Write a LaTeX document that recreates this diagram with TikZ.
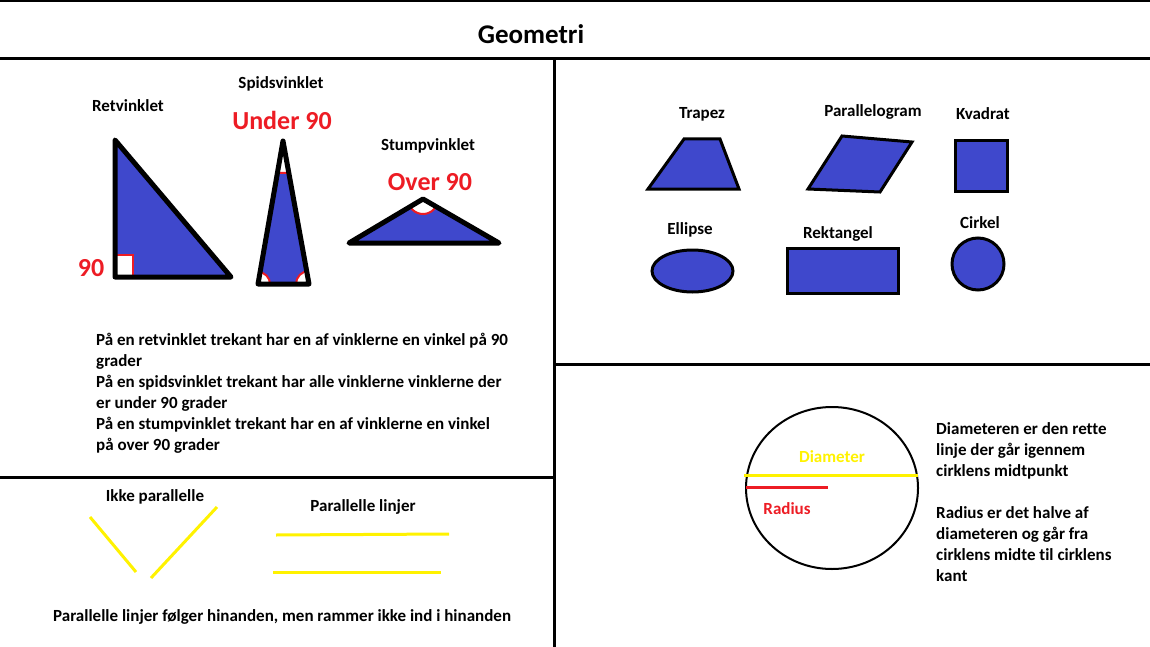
\documentclass[tikz,border=0pt]{standalone}
\usepackage{fontspec}
\setmainfont[Ligatures=NoCommon]{Carlito}
\usetikzlibrary{positioning}
\definecolor{paintblue}{RGB}{63,72,204}
\definecolor{paintred}{RGB}{237,28,36}
\definecolor{paintyellow}{RGB}{255,242,0}
\begin{document}
\begin{tikzpicture}[x=1pt,y=-1pt,
  lbl/.style={font=\bfseries\fontsize{17}{21}\selectfont,inner sep=0pt},
  redlbl/.style={font=\bfseries\fontsize{26}{30}\selectfont,text=paintred,inner sep=0pt},
  txtblock/.style={lbl,align=left,anchor=north west},
  figfill/.style={fill=paintblue},
  outline/.style={draw=black,line width=5pt,line join=round},
  figure/.style={draw=black,fill=paintblue,line width=3pt},
  frame/.style={draw=black,line width=3pt},
  anglemark/.style={draw=paintred,fill=white,line width=2pt},
  yline/.style={draw=paintyellow,line width=3pt}]
  \useasboundingbox (0,0) rectangle (1150,647);
  % frame lines
  \draw[line width=2pt] (0,1) -- (1150,1);
  \draw[frame] (0,59) -- (1150,59);
  \draw[frame] (554,59) -- (554,647);
  \draw[frame] (0,477) -- (554,477);
  \draw[frame] (554,364) -- (1150,364);
  \node[inner sep=0pt,font=\bfseries\fontsize{27}{32}\selectfont] (title) at (531,34) {Geometri};
  % triangles
  \coordinate (ra) at (115,140); \coordinate (rb) at (115,277); \coordinate (rc) at (231,277);
  \coordinate (sa) at (283,141); \coordinate (sb) at (258,284); \coordinate (sc) at (309,284);
  \coordinate (oa) at (349,243); \coordinate (ob) at (423,199); \coordinate (oc) at (499,243);
  \fill[figfill] (ra) -- (rb) -- (rc) -- cycle;
  \fill[figfill] (sa) -- (sb) -- (sc) -- cycle;
  \fill[figfill] (oa) -- (ob) -- (oc) -- cycle;
  \draw[anglemark] (115,255) rectangle (133,277);
  \begin{scope}
    \clip (sa) -- (sb) -- (sc) -- cycle;
    \draw[anglemark] (sa) circle (32);
    \draw[anglemark] (sb) circle (12);
    \draw[anglemark] (sc) circle (13);
  \end{scope}
  \begin{scope}
    \clip (oa) -- (ob) -- (oc) -- cycle;
    \draw[anglemark] (ob) circle (15);
  \end{scope}
  \draw[outline] (ra) -- (rb) -- (rc) -- cycle;
  \draw[outline] (sa) -- (sb) -- (sc) -- cycle;
  \draw[outline] (oa) -- (ob) -- (oc) -- cycle;
  \node[lbl] (retv) at (128,106) {Retvinklet};
  \node[lbl] (spids) at (281,84) {Spidsvinklet};
  \node[lbl] (stump) at (428,146) {Stumpvinklet};
  \node[redlbl] (under) at (282,120) {Under 90};
  \node[redlbl] (over) at (430,182) {Over 90};
  \node[redlbl] (ninety) at (91,268) {90};
  \node[txtblock] (trekant) at (96,333) {På en retvinklet trekant har en af vinklerne en vinkel på 90\\grader\\På en spidsvinklet trekant har alle vinklerne vinklerne der\\er under 90 grader\\På en stumpvinklet trekant har en af vinklerne en vinkel\\på over 90 grader};
  % quadrilaterals and round shapes
  \draw[figure] (684,139) -- (720,139) -- (739,189) -- (648,189) -- cycle;
  \draw[figure] (842,136) -- (912,142) -- (880,192) -- (808,189) -- cycle;
  \draw[figure] (955,141) rectangle (1007,191);
  \draw[figure] (692.5,271) ellipse [x radius=40.5,y radius=21];
  \draw[figure] (787,248) rectangle (898,293);
  \draw[figure] (978,264) circle (26);
  \node[lbl] (trapez) at (702,114) {Trapez};
  \node[lbl] (paral) at (873,112) {Parallelogram};
  \node[lbl] (kvadrat) at (983,114) {Kvadrat};
  \node[lbl] (ellipse) at (690,230) {Ellipse};
  \node[lbl] (rekt) at (838,234) {Rektangel};
  \node[lbl] (cirkel) at (980,223) {Cirkel};
  % circle with diameter and radius
  \draw[line width=2pt] (832,488) ellipse [x radius=86,y radius=81];
  \draw[yline] (744,475) -- (918,475);
  \draw[draw=paintred,line width=3pt] (746,487) -- (828,487);
  \node[lbl,text=paintyellow] (diam) at (832,457) {Diameter};
  \node[lbl,text=paintred] (radius) at (787,509) {Radius};
  \node[txtblock] (forklaring) at (936,422) {Diameteren er den rette\\linje der går igennem\\cirklens midtpunkt\\[21pt]Radius er det halve af\\diameteren og går fra\\cirklens midte til cirklens\\kant};
  % lines
  \node[lbl] (ikke) at (155,497) {Ikke parallelle};
  \draw[yline] (90,517) -- (136,572);
  \draw[yline] (217,507) -- (151,578);
  \node[lbl] (parlinjer) at (363,507) {Parallelle linjer};
  \draw[yline] (276,535) -- (449,534);
  \draw[yline] (273,572) -- (441,572);
  \node[lbl,anchor=west] (folger) at (53,617) {Parallelle linjer følger hinanden, men rammer ikke ind i hinanden};
\end{tikzpicture}
\end{document}
